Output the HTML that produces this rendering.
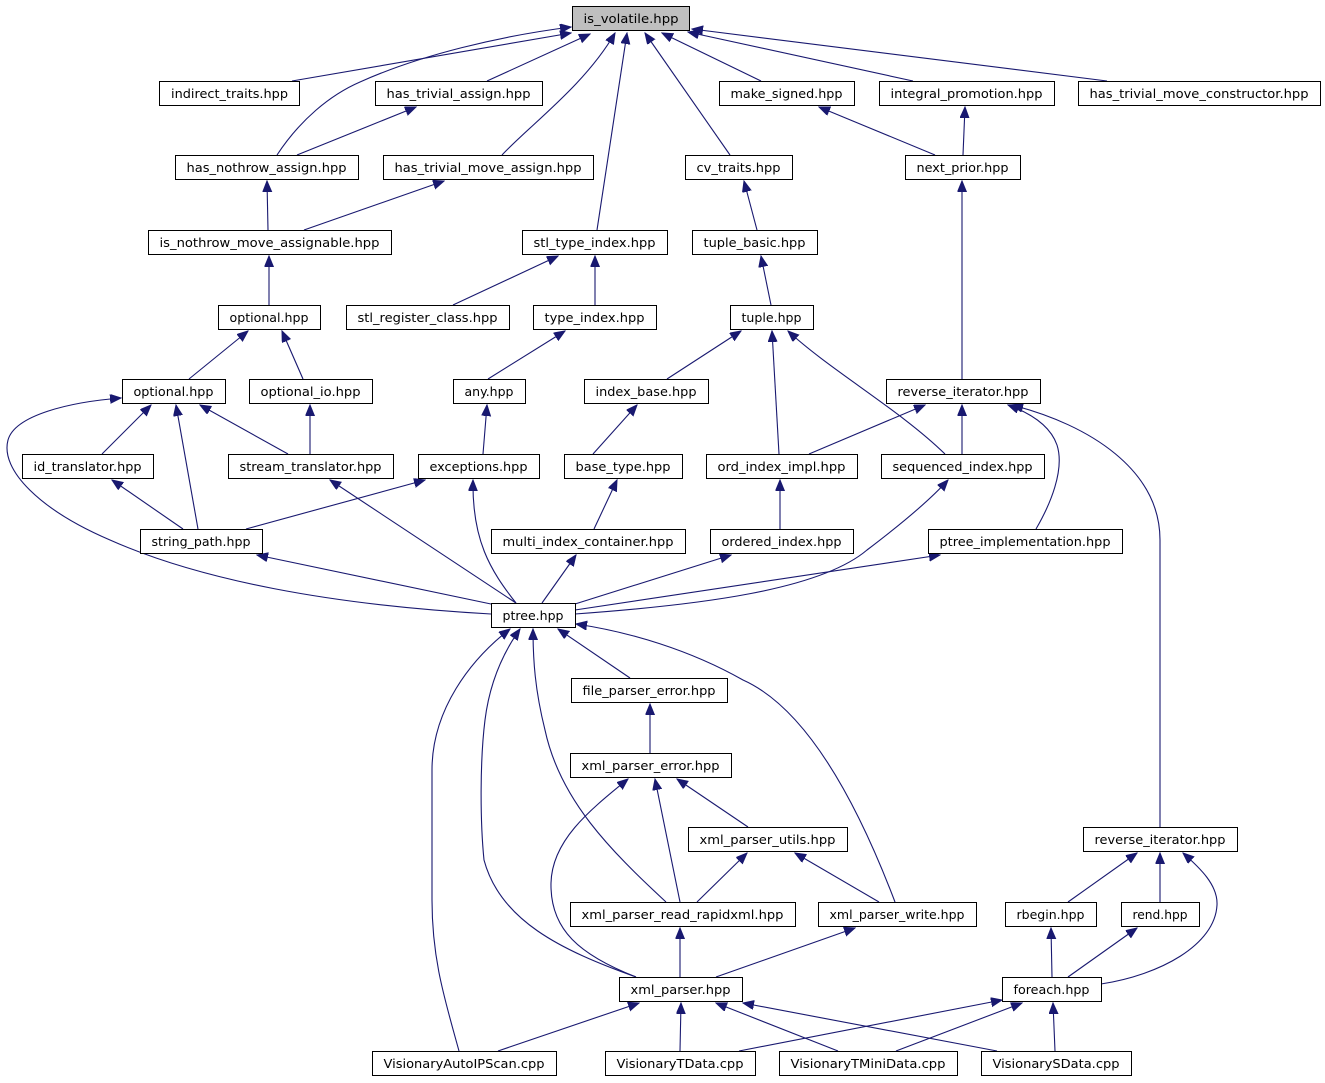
<!DOCTYPE html>
<html><head><meta charset="utf-8"><style>
html,body{margin:0;padding:0;background:#fff;}
svg{display:block;}
text{font-family:"DejaVu Sans","Liberation Sans",sans-serif;font-size:12.5px;fill:#000;}
.n{fill:#fff;stroke:#000;stroke-width:1;}
.e{fill:none;stroke:#191970;stroke-width:1.1;marker-end:url(#a);}
</style></head><body>
<svg width="1325" height="1083" viewBox="0 0 1325 1083" xmlns="http://www.w3.org/2000/svg">
<defs><marker id="a" markerUnits="userSpaceOnUse" markerWidth="12" markerHeight="10" refX="11" refY="4.5" orient="auto"><path d="M0,0 L11,4.5 L0,9 z" fill="#191970" stroke="#191970"/></marker></defs>
<g>
<path class="e" d="M292,81 L571,33"/>
<path class="e" d="M277,155 C300,120 330,95 360,82 C420,55 500,36 571,27"/>
<path class="e" d="M487,81 L590,34"/>
<path class="e" d="M297,155 L416,107"/>
<path class="e" d="M502,155 C530,125 585,85 615,33"/>
<path class="e" d="M597,230 L627,33"/>
<path class="e" d="M730,155 L645,33"/>
<path class="e" d="M761,81 L662,33"/>
<path class="e" d="M913,81 L688,32"/>
<path class="e" d="M1107,81 L692,29"/>
<path class="e" d="M935,155 L819,107"/>
<path class="e" d="M963,155 L965,107"/>
<path class="e" d="M268,230 L267,181"/>
<path class="e" d="M304,230 L444,181"/>
<path class="e" d="M757,230 L744,181"/>
<path class="e" d="M269,305 L269,256"/>
<path class="e" d="M453,305 L558,256"/>
<path class="e" d="M595,305 L595,256"/>
<path class="e" d="M771,305 L761,256"/>
<path class="e" d="M962,379 L962,181"/>
<path class="e" d="M189,379 L248,331"/>
<path class="e" d="M303,379 L282,331"/>
<path class="e" d="M488,379 L565,331"/>
<path class="e" d="M667,379 L741,331"/>
<path class="e" d="M779,454 L772,331"/>
<path class="e" d="M945,454 C900,410 830,370 788,331"/>
<path class="e" d="M809,454 L925,405"/>
<path class="e" d="M962,454 L962,405"/>
<path class="e" d="M1036,529 C1050,505 1065,470 1057,445 C1050,425 1030,413 1008,405"/>
<path class="e" d="M1160,827 L1160,540 C1160,470 1090,425 1012,405"/>
<path class="e" d="M102,454 L151,405"/>
<path class="e" d="M198,529 L176,405"/>
<path class="e" d="M288,454 L200,405"/>
<path class="e" d="M310,454 L310,405"/>
<path class="e" d="M183,529 L112,480"/>
<path class="e" d="M246,529 L425,480"/>
<path class="e" d="M483,454 L487,405"/>
<path class="e" d="M593,454 L637,405"/>
<path class="e" d="M491,614 C330,605 200,580 110,540 C40,510 0,470 8,440 C15,415 70,402 121,398"/>
<path class="e" d="M516,603 L330,480"/>
<path class="e" d="M491,604 L257,555"/>
<path class="e" d="M516,603 C490,570 472,540 473,480"/>
<path class="e" d="M594,529 L617,480"/>
<path class="e" d="M542,603 L576,555"/>
<path class="e" d="M780,529 L780,480"/>
<path class="e" d="M575,604 L731,555"/>
<path class="e" d="M575,610 L940,555"/>
<path class="e" d="M575,614 C700,605 820,590 867,550 C900,525 930,500 948,480"/>
<path class="e" d="M630,678 L558,629"/>
<path class="e" d="M650,753 L650,704"/>
<path class="e" d="M748,827 L677,779"/>
<path class="e" d="M680,902 L655,779"/>
<path class="e" d="M697,902 L747,853"/>
<path class="e" d="M879,902 L795,853"/>
<path class="e" d="M666,902 C610,850 560,800 545,730 C535,690 533,660 533,629"/>
<path class="e" d="M895,902 C860,810 810,710 743,680 C690,650 630,632 576,624"/>
<path class="e" d="M680,977 L680,928"/>
<path class="e" d="M716,977 L855,928"/>
<path class="e" d="M636,977 C580,955 550,930 551,883 C552,840 590,810 628,779"/>
<path class="e" d="M636,977 C560,950 500,920 484,860 C480,820 480,760 485,720 C490,680 505,650 520,629"/>
<path class="e" d="M459,1051 C445,1000 432,960 432,900 L432,770 C432,710 470,660 510,629"/>
<path class="e" d="M498,1051 L639,1003"/>
<path class="e" d="M680,1051 L681,1003"/>
<path class="e" d="M838,1051 L716,1003"/>
<path class="e" d="M997,1051 L743,1003"/>
<path class="e" d="M739,1051 L1002,1000"/>
<path class="e" d="M896,1051 L1022,1003"/>
<path class="e" d="M1055,1051 L1053,1003"/>
<path class="e" d="M1052,977 L1051,928"/>
<path class="e" d="M1068,977 L1137,928"/>
<path class="e" d="M1101,984 C1160,975 1215,945 1217,905 C1218,885 1200,868 1183,853"/>
<path class="e" d="M1068,902 L1137,853"/>
<path class="e" d="M1160,902 L1160,853"/>
</g>
<g>
<rect x="572.5" y="6.5" width="117" height="24" style="fill:#bfbfbf;stroke:#000"/><text x="631" y="23" text-anchor="middle" textLength="95" lengthAdjust="spacingAndGlyphs">is_volatile.hpp</text>
<rect class="n" x="159.5" y="81.5" width="140" height="24"/><text x="229.5" y="98" text-anchor="middle" textLength="117" lengthAdjust="spacingAndGlyphs">indirect_traits.hpp</text>
<rect class="n" x="375.5" y="81.5" width="167" height="24"/><text x="458.5" y="98" text-anchor="middle" textLength="144" lengthAdjust="spacingAndGlyphs">has_trivial_assign.hpp</text>
<rect class="n" x="719.5" y="81.5" width="135" height="24"/><text x="786.5" y="98" text-anchor="middle" textLength="112" lengthAdjust="spacingAndGlyphs">make_signed.hpp</text>
<rect class="n" x="879.5" y="81.5" width="175" height="24"/><text x="966.5" y="98" text-anchor="middle" textLength="152" lengthAdjust="spacingAndGlyphs">integral_promotion.hpp</text>
<rect class="n" x="1078.5" y="81.5" width="242" height="24"/><text x="1199" y="98" text-anchor="middle" textLength="219" lengthAdjust="spacingAndGlyphs">has_trivial_move_constructor.hpp</text>
<rect class="n" x="175.5" y="155.5" width="183" height="24"/><text x="266.5" y="172" text-anchor="middle" textLength="160" lengthAdjust="spacingAndGlyphs">has_nothrow_assign.hpp</text>
<rect class="n" x="383.5" y="155.5" width="210" height="24"/><text x="488" y="172" text-anchor="middle" textLength="187" lengthAdjust="spacingAndGlyphs">has_trivial_move_assign.hpp</text>
<rect class="n" x="685.5" y="155.5" width="107" height="24"/><text x="738.5" y="172" text-anchor="middle" textLength="84" lengthAdjust="spacingAndGlyphs">cv_traits.hpp</text>
<rect class="n" x="905.5" y="155.5" width="115" height="24"/><text x="962.5" y="172" text-anchor="middle" textLength="92" lengthAdjust="spacingAndGlyphs">next_prior.hpp</text>
<rect class="n" x="148.5" y="230.5" width="243" height="24"/><text x="269.5" y="247" text-anchor="middle" textLength="220" lengthAdjust="spacingAndGlyphs">is_nothrow_move_assignable.hpp</text>
<rect class="n" x="522.5" y="230.5" width="145" height="24"/><text x="594.5" y="247" text-anchor="middle" textLength="122" lengthAdjust="spacingAndGlyphs">stl_type_index.hpp</text>
<rect class="n" x="692.5" y="230.5" width="125" height="24"/><text x="754.5" y="247" text-anchor="middle" textLength="102" lengthAdjust="spacingAndGlyphs">tuple_basic.hpp</text>
<rect class="n" x="218.5" y="305.5" width="102" height="24"/><text x="269" y="322" text-anchor="middle" textLength="79" lengthAdjust="spacingAndGlyphs">optional.hpp</text>
<rect class="n" x="346.5" y="305.5" width="163" height="24"/><text x="427.5" y="322" text-anchor="middle" textLength="140" lengthAdjust="spacingAndGlyphs">stl_register_class.hpp</text>
<rect class="n" x="533.5" y="305.5" width="123" height="24"/><text x="594.5" y="322" text-anchor="middle" textLength="100" lengthAdjust="spacingAndGlyphs">type_index.hpp</text>
<rect class="n" x="730.5" y="305.5" width="83" height="24"/><text x="771.5" y="322" text-anchor="middle" textLength="60" lengthAdjust="spacingAndGlyphs">tuple.hpp</text>
<rect class="n" x="122.5" y="379.5" width="103" height="24"/><text x="173.5" y="396" text-anchor="middle" textLength="80" lengthAdjust="spacingAndGlyphs">optional.hpp</text>
<rect class="n" x="249.5" y="379.5" width="123" height="24"/><text x="310.5" y="396" text-anchor="middle" textLength="100" lengthAdjust="spacingAndGlyphs">optional_io.hpp</text>
<rect class="n" x="453.5" y="379.5" width="72" height="24"/><text x="489" y="396" text-anchor="middle" textLength="49" lengthAdjust="spacingAndGlyphs">any.hpp</text>
<rect class="n" x="584.5" y="379.5" width="124" height="24"/><text x="646" y="396" text-anchor="middle" textLength="101" lengthAdjust="spacingAndGlyphs">index_base.hpp</text>
<rect class="n" x="886.5" y="379.5" width="154" height="24"/><text x="963" y="396" text-anchor="middle" textLength="131" lengthAdjust="spacingAndGlyphs">reverse_iterator.hpp</text>
<rect class="n" x="22.5" y="454.5" width="131" height="24"/><text x="87.5" y="471" text-anchor="middle" textLength="108" lengthAdjust="spacingAndGlyphs">id_translator.hpp</text>
<rect class="n" x="228.5" y="454.5" width="165" height="24"/><text x="310.5" y="471" text-anchor="middle" textLength="142" lengthAdjust="spacingAndGlyphs">stream_translator.hpp</text>
<rect class="n" x="418.5" y="454.5" width="121" height="24"/><text x="478.5" y="471" text-anchor="middle" textLength="98" lengthAdjust="spacingAndGlyphs">exceptions.hpp</text>
<rect class="n" x="564.5" y="454.5" width="118" height="24"/><text x="623" y="471" text-anchor="middle" textLength="95" lengthAdjust="spacingAndGlyphs">base_type.hpp</text>
<rect class="n" x="706.5" y="454.5" width="151" height="24"/><text x="781.5" y="471" text-anchor="middle" textLength="128" lengthAdjust="spacingAndGlyphs">ord_index_impl.hpp</text>
<rect class="n" x="881.5" y="454.5" width="163" height="24"/><text x="962.5" y="471" text-anchor="middle" textLength="140" lengthAdjust="spacingAndGlyphs">sequenced_index.hpp</text>
<rect class="n" x="140.5" y="529.5" width="122" height="24"/><text x="201" y="546" text-anchor="middle" textLength="99" lengthAdjust="spacingAndGlyphs">string_path.hpp</text>
<rect class="n" x="491.5" y="529.5" width="194" height="24"/><text x="588" y="546" text-anchor="middle" textLength="171" lengthAdjust="spacingAndGlyphs">multi_index_container.hpp</text>
<rect class="n" x="710.5" y="529.5" width="143" height="24"/><text x="781.5" y="546" text-anchor="middle" textLength="120" lengthAdjust="spacingAndGlyphs">ordered_index.hpp</text>
<rect class="n" x="928.5" y="529.5" width="194" height="24"/><text x="1025" y="546" text-anchor="middle" textLength="171" lengthAdjust="spacingAndGlyphs">ptree_implementation.hpp</text>
<rect class="n" x="491.5" y="603.5" width="84" height="24"/><text x="533" y="620" text-anchor="middle" textLength="61" lengthAdjust="spacingAndGlyphs">ptree.hpp</text>
<rect class="n" x="571.5" y="678.5" width="156" height="24"/><text x="649" y="695" text-anchor="middle" textLength="133" lengthAdjust="spacingAndGlyphs">file_parser_error.hpp</text>
<rect class="n" x="570.5" y="753.5" width="161" height="24"/><text x="650.5" y="770" text-anchor="middle" textLength="138" lengthAdjust="spacingAndGlyphs">xml_parser_error.hpp</text>
<rect class="n" x="688.5" y="827.5" width="159" height="24"/><text x="767.5" y="844" text-anchor="middle" textLength="136" lengthAdjust="spacingAndGlyphs">xml_parser_utils.hpp</text>
<rect class="n" x="1083.5" y="827.5" width="154" height="24"/><text x="1160" y="844" text-anchor="middle" textLength="131" lengthAdjust="spacingAndGlyphs">reverse_iterator.hpp</text>
<rect class="n" x="570.5" y="902.5" width="225" height="24"/><text x="682.5" y="919" text-anchor="middle" textLength="202" lengthAdjust="spacingAndGlyphs">xml_parser_read_rapidxml.hpp</text>
<rect class="n" x="818.5" y="902.5" width="158" height="24"/><text x="897" y="919" text-anchor="middle" textLength="135" lengthAdjust="spacingAndGlyphs">xml_parser_write.hpp</text>
<rect class="n" x="1005.5" y="902.5" width="91" height="24"/><text x="1050.5" y="919" text-anchor="middle" textLength="68" lengthAdjust="spacingAndGlyphs">rbegin.hpp</text>
<rect class="n" x="1121.5" y="902.5" width="78" height="24"/><text x="1160" y="919" text-anchor="middle" textLength="55" lengthAdjust="spacingAndGlyphs">rend.hpp</text>
<rect class="n" x="619.5" y="977.5" width="123" height="24"/><text x="680.5" y="994" text-anchor="middle" textLength="100" lengthAdjust="spacingAndGlyphs">xml_parser.hpp</text>
<rect class="n" x="1002.5" y="977.5" width="99" height="24"/><text x="1051.5" y="994" text-anchor="middle" textLength="76" lengthAdjust="spacingAndGlyphs">foreach.hpp</text>
<rect class="n" x="372.5" y="1051.5" width="184" height="24"/><text x="464" y="1068" text-anchor="middle" textLength="161" lengthAdjust="spacingAndGlyphs">VisionaryAutoIPScan.cpp</text>
<rect class="n" x="605.5" y="1051.5" width="150" height="24"/><text x="680" y="1068" text-anchor="middle" textLength="127" lengthAdjust="spacingAndGlyphs">VisionaryTData.cpp</text>
<rect class="n" x="779.5" y="1051.5" width="178" height="24"/><text x="868" y="1068" text-anchor="middle" textLength="155" lengthAdjust="spacingAndGlyphs">VisionaryTMiniData.cpp</text>
<rect class="n" x="981.5" y="1051.5" width="150" height="24"/><text x="1056" y="1068" text-anchor="middle" textLength="127" lengthAdjust="spacingAndGlyphs">VisionarySData.cpp</text>
</g>
</svg>
</body></html>
